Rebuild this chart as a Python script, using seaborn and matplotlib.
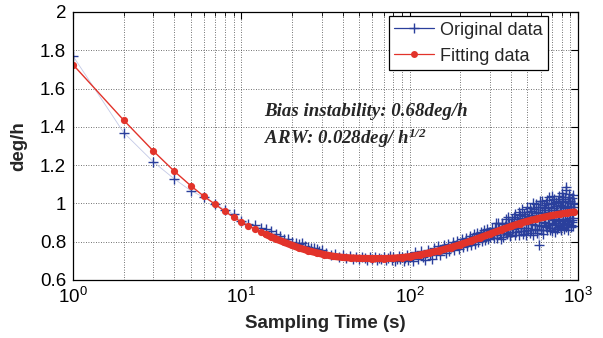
import matplotlib
matplotlib.use("Agg")
import matplotlib.pyplot as plt
import seaborn as sns
import pandas as pd
from matplotlib.lines import Line2D
from matplotlib.ticker import FixedLocator, LogLocator, NullFormatter

# ---------------- data ----------------
orig_tau_a = [1, 2, 3, 4, 5, 6, 7, 8, 9, 10]
orig_val_a = [1.77, 1.37, 1.217, 1.128, 1.067, 1.032, 0.995, 0.968, 0.944, 0.91]

orig_tau_b = list(range(11, 31))
orig_val_b = [0.895, 0.886, 0.872, 0.866, 0.855, 0.84, 0.83, 0.816, 0.812, 0.80,
              0.793, 0.79, 0.795, 0.78, 0.772, 0.768, 0.766, 0.762, 0.752, 0.755]

orig_tau_c = list(range(32, 101, 2))
orig_val_c = [0.742, 0.73, 0.735, 0.722, 0.728, 0.716, 0.724, 0.71, 0.72, 0.708,
              0.722, 0.715, 0.705, 0.718, 0.71, 0.722, 0.704, 0.716, 0.708, 0.72,
              0.702, 0.715, 0.724, 0.706, 0.718, 0.70, 0.712, 0.726, 0.708, 0.72,
              0.698, 0.716, 0.728, 0.705, 0.722]

orig_tau_d = list(range(104, 301, 4))
orig_val_d = [0.70, 0.745, 0.712, 0.75, 0.72, 0.705, 0.758, 0.73, 0.712, 0.766,
              0.738, 0.775, 0.73, 0.762, 0.785, 0.742, 0.79, 0.75, 0.772, 0.80,
              0.755, 0.785, 0.805, 0.76, 0.792, 0.815, 0.77, 0.80, 0.822, 0.775,
              0.81, 0.83, 0.785, 0.815, 0.84, 0.79, 0.825, 0.845, 0.80, 0.83,
              0.852, 0.805, 0.84, 0.86, 0.81, 0.845, 0.865, 0.815, 0.85, 0.825]

orig_tau_e = list(range(308, 949, 8))
orig_val_e = [0.873, 0.817, 0.896, 0.834, 0.868, 0.816, 0.899, 0.857, 0.92, 0.838,
              0.896, 0.829, 0.921, 0.864, 0.946, 0.849, 0.906, 0.833, 0.94, 0.872,
              0.969, 0.856, 0.933, 0.835, 0.957, 0.893, 0.975, 0.861, 0.938, 0.834,
              0.97, 0.887, 0.998, 0.859, 0.955, 0.785, 0.982, 0.884, 1.015, 0.861,
              0.967, 0.898, 1.004, 0.86, 0.981, 0.887, 1.033, 0.874, 0.965, 0.856,
              1.002, 0.913, 1.023, 0.889, 0.985, 0.865, 1.011, 0.907, 1.038, 0.883,
              0.984, 0.86, 1.005, 0.916, 1.036, 0.892, 0.977, 0.878, 1.088, 0.909,
              1.014, 0.89, 1.05, 0.926, 1.001, 0.887, 1.027, 0.913, 0.983, 0.884,
              0.999]

orig_tau_f = list(range(312, 945, 8))
orig_val_f = [0.835, 0.874, 0.818, 0.896, 0.845, 0.893, 0.826, 0.884, 0.847, 0.93,
              0.833, 0.90, 0.853, 0.93, 0.833, 0.92, 0.872, 0.954, 0.856, 0.923,
              0.84, 0.947, 0.874, 0.981, 0.863, 0.929, 0.846, 0.962, 0.894, 1.0,
              0.866, 0.948, 0.844, 0.98, 0.886, 1.012, 0.863, 0.95, 0.841, 0.992,
              0.903, 0.974, 0.875, 1.016, 0.897, 0.953, 0.859, 0.995, 0.891, 1.037,
              0.917, 0.978, 0.849, 1.009, 0.90, 0.966, 0.876, 1.022, 0.918, 0.994,
              0.874, 1.055, 0.90, 0.981, 0.866, 1.022, 0.917, 1.068, 0.888, 0.989,
              0.859, 1.035, 0.91, 1.011, 0.876, 0.982, 0.902, 1.043, 0.923, 1.004]

fit_tau = [1, 2, 3, 4, 5, 6, 7, 8, 9, 10, 11, 12, 13, 14, 15, 16, 18, 20, 22, 25,
           28, 31, 35, 40, 45, 50, 60, 70, 80, 90, 100, 115, 130, 150, 175, 200,
           230, 260, 300, 350, 400, 450, 500, 560, 620, 700, 780, 860, 950]
fit_val = [1.725, 1.435, 1.274, 1.168, 1.093, 1.037, 0.995, 0.958, 0.928, 0.903,
           0.884, 0.867, 0.852, 0.838, 0.826, 0.815, 0.797, 0.781, 0.768, 0.753,
           0.742, 0.733, 0.724, 0.718, 0.715, 0.713, 0.712, 0.712, 0.714, 0.717,
           0.722, 0.731, 0.741, 0.753, 0.769, 0.785, 0.803, 0.82, 0.84, 0.862,
           0.88, 0.895, 0.907, 0.918, 0.927, 0.937, 0.944, 0.95, 0.955]

ytick_vals = [0.6, 0.8, 1.0, 1.2, 1.4, 1.6, 1.8, 2.0]
ytick_labels = ["0.6", "0.8", "1", "1.2", "1.4", "1.6", "1.8", "2"]

orig = pd.DataFrame({
    "tau": orig_tau_a + orig_tau_b + orig_tau_c + orig_tau_d + orig_tau_e + orig_tau_f,
    "val": orig_val_a + orig_val_b + orig_val_c + orig_val_d + orig_val_e + orig_val_f,
}).sort_values("tau").reset_index(drop=True)
fit = pd.DataFrame({"tau": fit_tau, "val": fit_val})
fit_dense = fit[fit["tau"] >= 14]

# ---------------- style ----------------
sns.set_style("white")
plt.rcParams["font.family"] = ["Liberation Sans", "DejaVu Sans"]
plt.rcParams["mathtext.fontset"] = "custom"
plt.rcParams["mathtext.rm"] = "Liberation Serif:bold:italic"
plt.rcParams["mathtext.it"] = "Liberation Serif:bold:italic"
plt.rcParams["mathtext.bf"] = "Liberation Serif:bold:italic"

BLUE = "#2a3f9c"
LIGHTBLUE = "#c3c9e6"
RED = "#e2332a"
FS = 13.5

fig = plt.figure(figsize=(6.03, 3.38), dpi=100)
ax = fig.add_axes([73 / 603, 58 / 338, 505 / 603, 268 / 338])

# thin faint connecting line of the original data
sns.lineplot(data=orig, x="tau", y="val", ax=ax, sort=False, estimator=None,
             color=LIGHTBLUE, linewidth=0.6, legend=False)
# original data crosses
sns.lineplot(data=orig, x="tau", y="val", ax=ax, sort=False, estimator=None,
             color=BLUE, linestyle="none", marker="+", markersize=7.5,
             markeredgewidth=1.0, markeredgecolor=BLUE, legend=False)
# fitting data: dense part appears as a thick band
sns.lineplot(data=fit_dense, x="tau", y="val", ax=ax, sort=False, estimator=None,
             color=RED, linewidth=5.2, legend=False, solid_capstyle="round")
sns.lineplot(data=fit, x="tau", y="val", ax=ax, sort=False, estimator=None,
             color=RED, linewidth=1.0, marker="o", markersize=5.2,
             markeredgewidth=0, legend=False)

ax.set_xscale("log")
ax.set_xlim(1, 1000)
ax.set_ylim(0.6, 2.0)
ax.yaxis.set_major_locator(FixedLocator(ytick_vals))
ax.set_yticklabels(ytick_labels)
ax.xaxis.set_minor_locator(LogLocator(base=10, subs=range(2, 10)))
ax.xaxis.set_minor_formatter(NullFormatter())

ax.grid(True, which="major", axis="both", color="#444444", linestyle=(0, (1, 2)), linewidth=0.6)
ax.grid(True, which="minor", axis="x", color="#444444", linestyle=(0, (1, 2)), linewidth=0.6)

for s in ax.spines.values():
    s.set_color("black")
    s.set_linewidth(0.9)

ax.tick_params(axis="both", which="both", direction="in", top=True, right=True,
               labelsize=FS, colors="black")
ax.tick_params(axis="both", which="major", length=5, width=0.8, pad=5)
ax.tick_params(axis="x", which="minor", length=3, width=0.6)

ax.set_xlabel("Sampling Time (s)", fontsize=FS, fontweight="bold", labelpad=6)
ax.set_ylabel("deg/h", fontsize=FS, fontweight="bold", labelpad=9)

handles = [
    Line2D([], [], color=BLUE, linewidth=0.9, marker="+", markersize=7.5, markeredgewidth=1.0),
    Line2D([], [], color=RED, linewidth=0.9, marker="o", markersize=5, markeredgewidth=0),
]
leg = ax.legend(handles, ["Original data", "Fitting data"], loc="upper right",
                bbox_to_anchor=(0.9406, 0.984), fontsize=13, frameon=True,
                fancybox=False, framealpha=1, edgecolor="black",
                borderaxespad=0, handlelength=2.2, borderpad=0.3,
                labelspacing=0.5, handletextpad=0.35)
leg.get_frame().set_linewidth(0.9)

ax.text(0.378, 0.628, "Bias instability: 0.68deg/h", transform=ax.transAxes,
        family="Liberation Serif", style="italic", weight="bold", fontsize=13.6,
        va="center", ha="left")
ax.text(0.378, 0.53, r"ARW: 0.028deg/ h$^{1/2}$", transform=ax.transAxes,
        family="Liberation Serif", style="italic", weight="bold", fontsize=13.6,
        va="center", ha="left")

fig.savefig("out.png", dpi=100)
